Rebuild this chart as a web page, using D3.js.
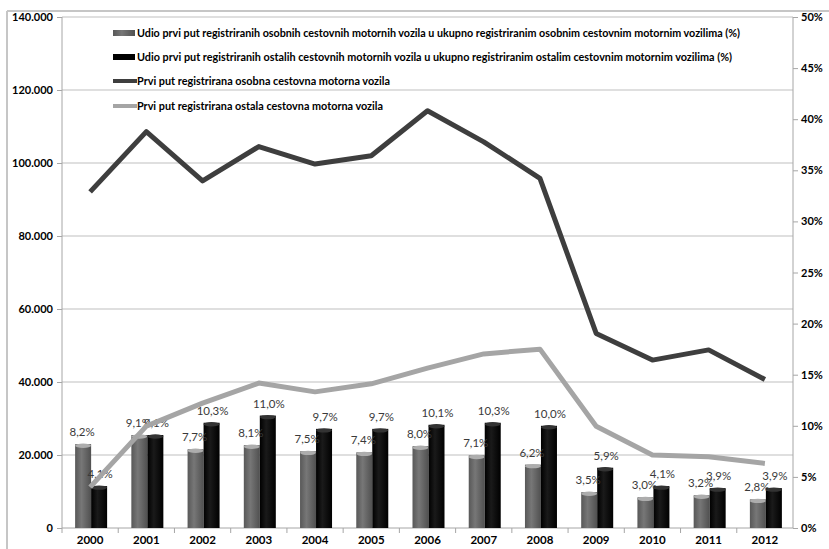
<!DOCTYPE html>
<html>
<head>
<meta charset="utf-8">
<script src="https://cdn.jsdelivr.net/npm/d3@7"></script>
<style>
body { margin: 0; background: #fff; }
text { font-family: Lato, "Open Sans", sans-serif; }
.tick text { font-weight: bold; font-size: 11px; fill: #000; }
.axis path, .axis line { stroke: #a6a6a6; }
.grid line { stroke: #d4d4d4; stroke-width: 1.3; }
.barLabel { font-size: 11.5px; fill: #3a3a3a; text-anchor: middle; }
.legendText { font-size: 10.5px; font-weight: bold; fill: #000; }
</style>
</head>
<body>
<div id="chart"></div>
<script>
// data
var years = ["2000","2001","2002","2003","2004","2005","2006","2007","2008","2009","2010","2011","2012"];
var passShare = [8.2, 9.1, 7.7, 8.1, 7.5, 7.4, 8.0, 7.1, 6.2, 3.5, 3.0, 3.2, 2.8];
var otherShare = [4.1, 9.1, 10.3, 11.0, 9.7, 9.7, 10.1, 10.3, 10.0, 5.9, 4.1, 3.9, 3.9];
var passCount = [92100, 108600, 95100, 104500, 99700, 102000, 114300, 105800, 95800, 53300, 46000, 48800, 40700];
var otherCount = [11200, 27900, 34200, 39700, 37300, 39500, 43800, 47700, 49000, 27900, 20000, 19500, 17700];
var leftTicks = [0, 20000, 40000, 60000, 80000, 100000, 120000, 140000];
var rightTicks = [0, 5, 10, 15, 20, 25, 30, 35, 40, 45, 50];
var legendLabels = [
	"Udio prvi put registriranih osobnih cestovnih motornih vozila u ukupno registriranim osobnim cestovnim motornim vozilima (%)",
	"Udio prvi put registriranih ostalih cestovnih motornih vozila u ukupno registriranim ostalim cestovnim motornim  vozilima (%)",
	"Prvi put registrirana osobna cestovna  motorna vozila",
	"Prvi put registrirana ostala cestovna motorna  vozila"
];

var W = 829, H = 549;
var margin = {top: 17, right: 36, bottom: 21, left: 62};
var width = W - margin.left - margin.right;
var height = H - margin.top - margin.bottom;

var hr = d3.formatLocale({decimal: ",", thousands: ".", grouping: [3], currency: ["", ""]});
var fmtNum = hr.format(",.0f");
var fmtPct = hr.format(".1f");

var svg = d3.select("#chart").append("svg")
	.attr("width", W)
	.attr("height", H);

//outer frame
svg.append("line").attr("x1", 7).attr("y1", 11).attr("x2", W).attr("y2", 11)
	.style("stroke", "#c6c6c6").style("stroke-width", 2);
svg.append("line").attr("x1", 7).attr("y1", 11).attr("x2", 7).attr("y2", H)
	.style("stroke", "#c6c6c6").style("stroke-width", 2);

var g = svg.append("g")
	.attr("transform", "translate(" + margin.left + "," + margin.top + ")");

//scales
var x = d3.scaleBand().domain(years).range([0, width]).padding(0);
var yLeft = d3.scaleLinear().domain([0, 140000]).range([height, 0]);
var yRight = d3.scaleLinear().domain([0, 50]).range([height, 0]);

//gradients for the bars
var defs = svg.append("defs");
var gGrey = defs.append("linearGradient").attr("id", "greyBar")
	.attr("x1", "0%").attr("x2", "100%").attr("y1", "0%").attr("y2", "0%");
gGrey.append("stop").attr("offset", "0%").attr("stop-color", "#585858");
gGrey.append("stop").attr("offset", "40%").attr("stop-color", "#777");
gGrey.append("stop").attr("offset", "100%").attr("stop-color", "#505050");
var gBlack = defs.append("linearGradient").attr("id", "blackBar")
	.attr("x1", "0%").attr("x2", "100%").attr("y1", "0%").attr("y2", "0%");
gBlack.append("stop").attr("offset", "0%").attr("stop-color", "#000");
gBlack.append("stop").attr("offset", "40%").attr("stop-color", "#1a1a1a");
gBlack.append("stop").attr("offset", "100%").attr("stop-color", "#000");

//gridlines
g.append("g").attr("class", "grid")
	.selectAll("line")
	.data(leftTicks.slice(1))
	.enter().append("line")
	.attr("x1", 0).attr("x2", width)
	.attr("y1", function(d) { return yLeft(d); })
	.attr("y2", function(d) { return yLeft(d); });

//axes
g.append("g").attr("class", "axis")
	.call(d3.axisLeft(yLeft).tickValues(leftTicks).tickSize(5).tickPadding(4)
		.tickFormat(function(d) { return fmtNum(d); }))
	.call(function(a) { a.select(".domain").attr("d", "M0,0V" + height); });

g.append("g").attr("class", "axis")
	.attr("transform", "translate(" + width + ",0)")
	.call(d3.axisRight(yRight).tickValues(rightTicks).tickSize(5).tickPadding(3)
		.tickFormat(function(d) { return d + "%"; }))
	.call(function(a) { a.select(".domain").attr("d", "M0,0V" + height); });

var xAxis = g.append("g").attr("class", "axis")
	.attr("transform", "translate(0," + height + ")")
	.call(d3.axisBottom(x).tickSize(0).tickPadding(8));
xAxis.select(".domain").attr("d", "M0,0H" + width);
xAxis.selectAll(".tick text").style("font-size", "11.5px");
//tick marks between categories
xAxis.selectAll(".sep")
	.data(years)
	.enter().append("line")
	.attr("class", "sep")
	.attr("x1", function(d) { return x(d); })
	.attr("x2", function(d) { return x(d); })
	.attr("y1", 0).attr("y2", 5);

//bars
var bw = 16;
var bars = g.append("g");
var groups = bars.selectAll(".yr")
	.data(years)
	.enter().append("g")
	.attr("transform", function(d) { return "translate(" + (x(d) + x.bandwidth() / 2 + 1) + ",0)"; });

groups.append("rect")
	.attr("x", -bw)
	.attr("y", function(d, i) { return yRight(passShare[i]); })
	.attr("width", bw)
	.attr("height", function(d, i) { return height - yRight(passShare[i]); })
	.style("fill", "url(#greyBar)");
groups.append("ellipse")
	.attr("cx", -bw / 2)
	.attr("cy", function(d, i) { return yRight(passShare[i]) + 1.5; })
	.attr("rx", bw / 2).attr("ry", 2.2)
	.style("fill", "#adadad");

groups.append("rect")
	.attr("x", 0)
	.attr("y", function(d, i) { return yRight(otherShare[i]); })
	.attr("width", bw)
	.attr("height", function(d, i) { return height - yRight(otherShare[i]); })
	.style("fill", "url(#blackBar)");
groups.append("ellipse")
	.attr("cx", bw / 2)
	.attr("cy", function(d, i) { return yRight(otherShare[i]) + 1.5; })
	.attr("rx", bw / 2).attr("ry", 2.2)
	.style("fill", "#333");

//bar labels
groups.append("text")
	.attr("class", "barLabel")
	.attr("x", -bw / 2 - 1)
	.attr("y", function(d, i) { return yRight(passShare[i]) - 8; })
	.text(function(d, i) { return fmtPct(passShare[i]) + "%"; });
groups.append("text")
	.attr("class", "barLabel")
	.attr("x", bw / 2 + 1)
	.attr("y", function(d, i) { return yRight(otherShare[i]) - 8; })
	.text(function(d, i) { return fmtPct(otherShare[i]) + "%"; });

//lines
var lineGen = function(vals) {
	return d3.line()
		.x(function(d, i) { return x(years[i]) + x.bandwidth() / 2; })
		.y(function(d) { return yLeft(d); })(vals);
};
g.append("path")
	.attr("d", lineGen(otherCount))
	.style("fill", "none").style("stroke", "#a5a5a5")
	.style("stroke-width", 5).style("stroke-linejoin", "round");
g.append("path")
	.attr("d", lineGen(passCount))
	.style("fill", "none").style("stroke", "#3e3e3e")
	.style("stroke-width", 5).style("stroke-linejoin", "round");

//legend
var legendY = [33, 57, 81, 106];
var legendW = [603, 595, 253, 246];
var legend = svg.append("g").attr("transform", "translate(113,0)");
legend.append("rect").attr("x", 0).attr("y", legendY[0] - 3).attr("width", 22).attr("height", 6)
	.style("fill", "url(#greyBar)");
legend.append("rect").attr("x", 0).attr("y", legendY[1] - 3).attr("width", 22).attr("height", 6)
	.style("fill", "#000");
legend.append("line").attr("x1", 0).attr("x2", 24).attr("y1", legendY[2]).attr("y2", legendY[2])
	.style("stroke", "#3e3e3e").style("stroke-width", 4);
legend.append("line").attr("x1", 0).attr("x2", 24).attr("y1", legendY[3]).attr("y2", legendY[3])
	.style("stroke", "#a5a5a5").style("stroke-width", 4);
legend.selectAll(".legendText")
	.data(legendLabels)
	.enter().append("text")
	.attr("class", "legendText")
	.attr("x", 24)
	.attr("y", function(d, i) { return legendY[i]; })
	.attr("dy", "0.35em")
	.attr("textLength", function(d, i) { return legendW[i]; })
	.attr("lengthAdjust", "spacingAndGlyphs")
	.text(function(d) { return d; });
</script>
</body>
</html>
